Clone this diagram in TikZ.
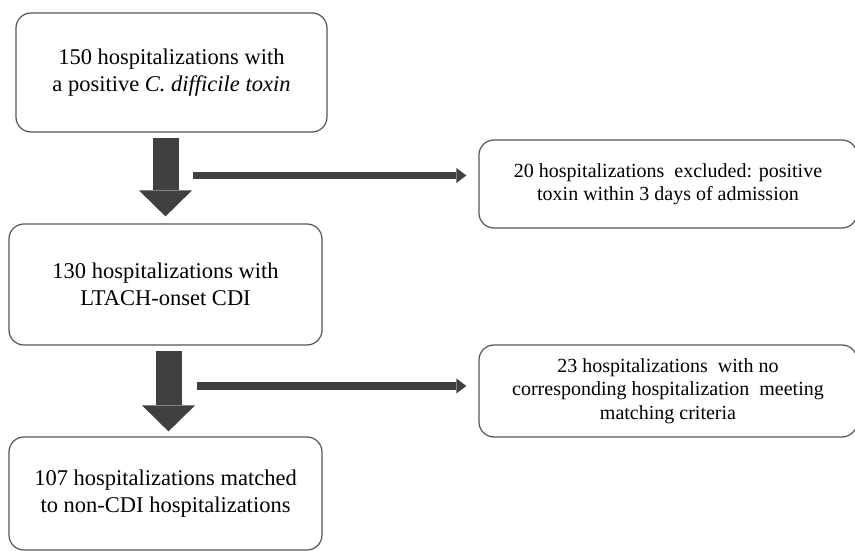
\documentclass[tikz,border=0pt]{standalone}
\usepackage{fontspec}
\setmainfont{Liberation Serif}
\usetikzlibrary{arrows.meta}
\definecolor{arrowgray}{RGB}{64,64,64}
\definecolor{boxgray}{RGB}{85,85,85}

\begin{document}
\begin{tikzpicture}[x=1pt,y=-1pt]
                \tikzset{Box/.style={draw=boxgray, line width=1.2pt, rounded corners=15pt, align=center, inner sep=0pt},
                         BigText/.style={font=\fontsize{22.5}{27}\selectfont},
                         SmallText/.style={font=\fontsize{20}{23.5}\selectfont},
                         DownArrow/.style={draw=arrowgray, line width=26pt, -{Triangle[width=53pt,length=26pt,line width=0pt]}},
                         SideArrow/.style={draw=arrowgray, line width=7.5pt, shorten >=12pt, -{Triangle[width=15pt,length=10pt,line width=0pt]}}}
                \useasboundingbox (0,0) rectangle (855,551);
                \clip (0,0) rectangle (855,551);
                \node[Box, BigText, minimum width=311pt, minimum height=119pt] (H150) at (171.5,72.5)
                        {150 hospitalizations with\\a positive \textit{C. difficile toxin}};
                \node[Box, SmallText, minimum width=378pt, minimum height=88pt] (H20) at (668,184)
                        {20 hospitalizations\ \ excluded: positive\\toxin within 3 days of admission};
                \node[Box, BigText, minimum width=313pt, minimum height=121pt] (H130) at (165.5,284.5)
                        {130 hospitalizations with\\LTACH-onset CDI};
                \node[Box, SmallText, minimum width=378pt, minimum height=92pt] (H23) at (668,391)
                        {23 hospitalizations\ \ with no\\corresponding hospitalization\ \ meeting\\matching criteria};
                \node[Box, BigText, minimum width=313pt, minimum height=113pt] (H107) at (165.5,493.5)
                        {107 hospitalizations matched\\to non-CDI hospitalizations};
                \coordinate (S1) at (193,175.5);
                \coordinate (S2) at (197,386);
                \draw[DownArrow] ([yshift=-5pt]H150.south -| H130.north) -- ([yshift=7pt]H130.north);
                \draw[DownArrow] ([xshift=3pt,yshift=-5pt]H130.south) -- ([xshift=3pt,yshift=5pt]H107.north);
                \draw[SideArrow] (S1) -- (S1 -| H20.west);
                \draw[SideArrow] (S2) -- (S2 -| H23.west);
\end{tikzpicture}
\end{document}
